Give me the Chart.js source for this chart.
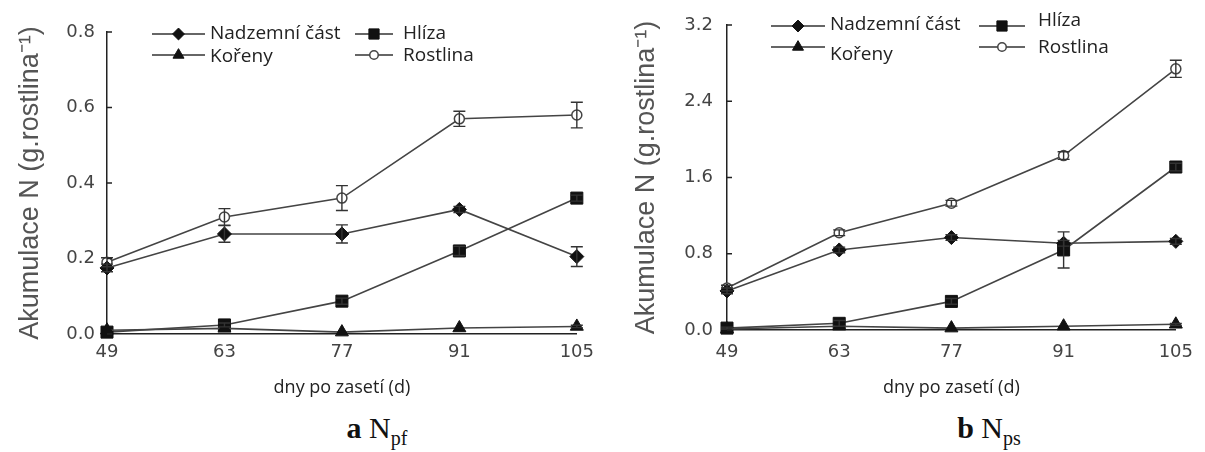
<!DOCTYPE html>
<html>
<head>
<meta charset="utf-8">
<script src="https://cdn.jsdelivr.net/npm/chart.js@4.4.0/dist/chart.umd.min.js"></script>
<style>
  body { margin: 0; background: #fff; width: 1205px; height: 452px; overflow: hidden; position: relative; }
  .box { position: absolute; top: 0; }
  .cap { position: absolute; top: 411px; width: 200px; text-align: center;
         font-family: "Liberation Serif", "Times New Roman", serif; font-size: 30px; color: #111; }
  .cap sub { font-size: 20px; }
</style>
</head>
<body>
<div class="box" style="left:0"><canvas id="chartA" width="602" height="405"></canvas></div>
<div class="box" style="left:602px"><canvas id="chartB" width="603" height="405"></canvas></div>
<div class="cap" style="left:277px"><b>a</b> N<sub>pf</sub></div>
<div class="cap" style="left:889px"><b>b</b> N<sub>ps</sub></div>
<script>
const days = [49, 63, 77, 91, 105];
const seriesNames = ["Nadzemní část", "Hlíza", "Kořeny", "Rostlina"];

// a Npf
const aNadzemni = [0.175, 0.265, 0.265, 0.33, 0.205];
const aHliza = [0.005, 0.024, 0.087, 0.22, 0.36];
const aKoreny = [0.01, 0.015, 0.005, 0.016, 0.02];
const aRostlina = [0.19, 0.31, 0.36, 0.57, 0.58];
const aNadzemniErr = [0.01, 0.022, 0.024, 0.008, 0.026];
const aHlizaErr = [0, 0.005, 0.008, 0.012, 0.008];
const aKorenyErr = [0, 0, 0, 0, 0.003];
const aRostlinaErr = [0.012, 0.022, 0.033, 0.02, 0.034];
const aTicks = [0, 0.2, 0.4, 0.6, 0.8];

// b Nps
const bNadzemni = [0.41, 0.84, 0.97, 0.91, 0.93];
const bHliza = [0.02, 0.07, 0.30, 0.84, 1.71];
const bKoreny = [0.01, 0.04, 0.02, 0.04, 0.06];
const bRostlina = [0.44, 1.02, 1.33, 1.83, 2.74];
const bNadzemniErr = [0.03, 0.03, 0.03, 0.03, 0.03];
const bHlizaErr = [0.01, 0.03, 0.03, 0.19, 0.04];
const bKorenyErr = [0, 0, 0, 0, 0.01];
const bRostlinaErr = [0.03, 0.03, 0.03, 0.04, 0.09];
const bTicks = [0, 0.8, 1.6, 2.4, 3.2];

// order: nižší = kreslí se navrch
const markers = [
  { pointStyle: "rectRot", radius: 7, fill: "#111", border: "#111", bw: 1, order: 1 },
  { pointStyle: "rect", radius: 8.5, fill: "#111", border: "#111", bw: 1, order: 2 },
  { pointStyle: "triangle", radius: 7.5, fill: "#111", border: "#111", bw: 1, order: 0 },
  { pointStyle: "circle", radius: 5, fill: "#fff", border: "#444", bw: 1.5, order: 3 },
];

function toPoints(vals) {
  return days.map((d, i) => ({ x: d, y: vals[i] }));
}

// svislé chybové úsečky
const errorBars = {
  id: "errorBars",
  afterDatasetsDraw(chart) {
    const { ctx, scales: { x, y } } = chart;
    ctx.save();
    ctx.strokeStyle = "#333";
    ctx.lineWidth = 1.4;
    chart.data.datasets.forEach((ds) => {
      (ds.errors || []).forEach((e, i) => {
        if (!e) return;
        const px = x.getPixelForValue(ds.data[i].x);
        const top = y.getPixelForValue(ds.data[i].y + e);
        const bot = y.getPixelForValue(ds.data[i].y - e);
        ctx.beginPath();
        ctx.moveTo(px, top); ctx.lineTo(px, bot);
        ctx.moveTo(px - 6, top); ctx.lineTo(px + 6, top);
        ctx.moveTo(px - 6, bot); ctx.lineTo(px + 6, bot);
        ctx.stroke();
      });
    });
    ctx.restore();
  },
};

// legenda se značkou na čáře + dovnitř otočené značky osy y
const lineLegend = {
  id: "lineLegend",
  afterDraw(chart, args, opts) {
    const ctx = chart.ctx;
    const y = chart.scales.y;
    const left = chart.chartArea.left;
    ctx.save();
    ctx.strokeStyle = "#222";
    ctx.lineWidth = 1.5;
    y.ticks.forEach((t) => {
      const py = y.getPixelForValue(t.value);
      ctx.beginPath();
      ctx.moveTo(left, py);
      ctx.lineTo(left + 5, py);
      ctx.stroke();
    });
    opts.items.forEach((it, i) => {
      const ds = chart.data.datasets[i];
      ctx.strokeStyle = "#333";
      ctx.lineWidth = 1.6;
      ctx.beginPath();
      ctx.moveTo(it.x1, it.y);
      ctx.lineTo(it.x2, it.y);
      ctx.stroke();
      ctx.fillStyle = ds.pointBackgroundColor;
      ctx.strokeStyle = ds.pointBorderColor;
      ctx.lineWidth = ds.pointBorderWidth;
      Chart.helpers.drawPoint(ctx, {
        pointStyle: ds.pointStyle, radius: ds.pointRadius * 0.85,
        borderWidth: ds.pointBorderWidth, rotation: 0,
      }, (it.x1 + it.x2) / 2, it.y);
      ctx.fillStyle = "#222";
      ctx.font = '19px "Open Sans"';
      ctx.textBaseline = "middle";
      ctx.textAlign = "left";
      ctx.fillText(ds.label, it.tx, it.ty);
    });
    ctx.restore();
  },
};

function makeChart(id, cfg) {
  new Chart(document.getElementById(id), {
    type: "line",
    data: {
      datasets: cfg.series.map((vals, i) => ({
        label: seriesNames[i],
        data: toPoints(vals),
        errors: cfg.errors[i],
        order: markers[i].order,
        borderColor: "#444",
        borderWidth: 1.6,
        pointStyle: markers[i].pointStyle,
        pointRadius: markers[i].radius,
        pointHoverRadius: markers[i].radius,
        pointBackgroundColor: markers[i].fill,
        pointBorderColor: markers[i].border,
        pointBorderWidth: markers[i].bw,
        clip: false,
        tension: 0,
      })),
    },
    options: {
      responsive: false,
      animation: false,
      layout: { padding: cfg.padding },
      plugins: {
        legend: { display: false },
        tooltip: { enabled: false },
        lineLegend: { items: cfg.legend },
      },
      scales: {
        x: {
          type: "linear",
          min: 49,
          max: 105,
          afterBuildTicks: (s) => { s.ticks = days.map((v) => ({ value: v })); },
          afterFit: (s) => { s.height = cfg.xHeight; },
          grid: { drawOnChartArea: false, drawTicks: false },
          border: { color: "#222", width: 1.5 },
          ticks: { font: { family: "DejaVu Sans", size: 18 }, color: "#444", padding: cfg.xPad, maxRotation: 0, autoSkip: false },
          title: { display: true, text: "dny po zasetí (d)", font: { family: "Open Sans", size: 18 }, color: "#222", padding: { top: 0, bottom: 6 } },
        },
        y: {
          min: 0,
          max: cfg.yTicks[cfg.yTicks.length - 1],
          afterBuildTicks: (s) => { s.ticks = cfg.yTicks.map((v) => ({ value: v })); },
          afterFit: (s) => { s.width = cfg.yWidth; },
          grid: { drawOnChartArea: false, drawTicks: false },
          border: { color: "#222", width: 1.5 },
          ticks: { font: { family: "DejaVu Sans", size: 18 }, color: "#444", padding: cfg.yPad, callback: (v) => v.toFixed(1) },
          title: { display: true, text: "Akumulace N (g.rostlina⁻¹)", font: { family: "Liberation Sans", size: 27 }, color: "#555", padding: { top: cfg.titlePad } },
        },
      },
    },
    plugins: [errorBars, lineLegend],
  });
}

makeChart("chartA", {
  series: [aNadzemni, aHliza, aKoreny, aRostlina],
  errors: [aNadzemniErr, aHlizaErr, aKorenyErr, aRostlinaErr],
  yTicks: aTicks,
  padding: { top: 32, right: 25, left: 0, bottom: 0 },
  xHeight: 71, xPad: 8, yWidth: 107, yPad: 12, titlePad: 14,
  legend: [
    { x1: 152, x2: 205, y: 34, tx: 210, ty: 34 },
    { x1: 355, x2: 393, y: 34, tx: 403, ty: 34 },
    { x1: 152, x2: 205, y: 55, tx: 210, ty: 57 },
    { x1: 355, x2: 393, y: 55, tx: 403, ty: 56 },
  ],
});

makeChart("chartB", {
  series: [bNadzemni, bHliza, bKoreny, bRostlina],
  errors: [bNadzemniErr, bHlizaErr, bKorenyErr, bRostlinaErr],
  yTicks: bTicks,
  padding: { top: 25, right: 24, left: 0, bottom: 0 },
  xHeight: 75, xPad: 12, yWidth: 125, yPad: 14, titlePad: 28,
  legend: [
    { x1: 169, x2: 223, y: 26, tx: 228, ty: 25 },
    { x1: 377, x2: 423, y: 26, tx: 436, ty: 21 },
    { x1: 169, x2: 223, y: 47, tx: 228, ty: 55 },
    { x1: 377, x2: 423, y: 47, tx: 436, ty: 48 },
  ],
});
</script>
</body>
</html>
